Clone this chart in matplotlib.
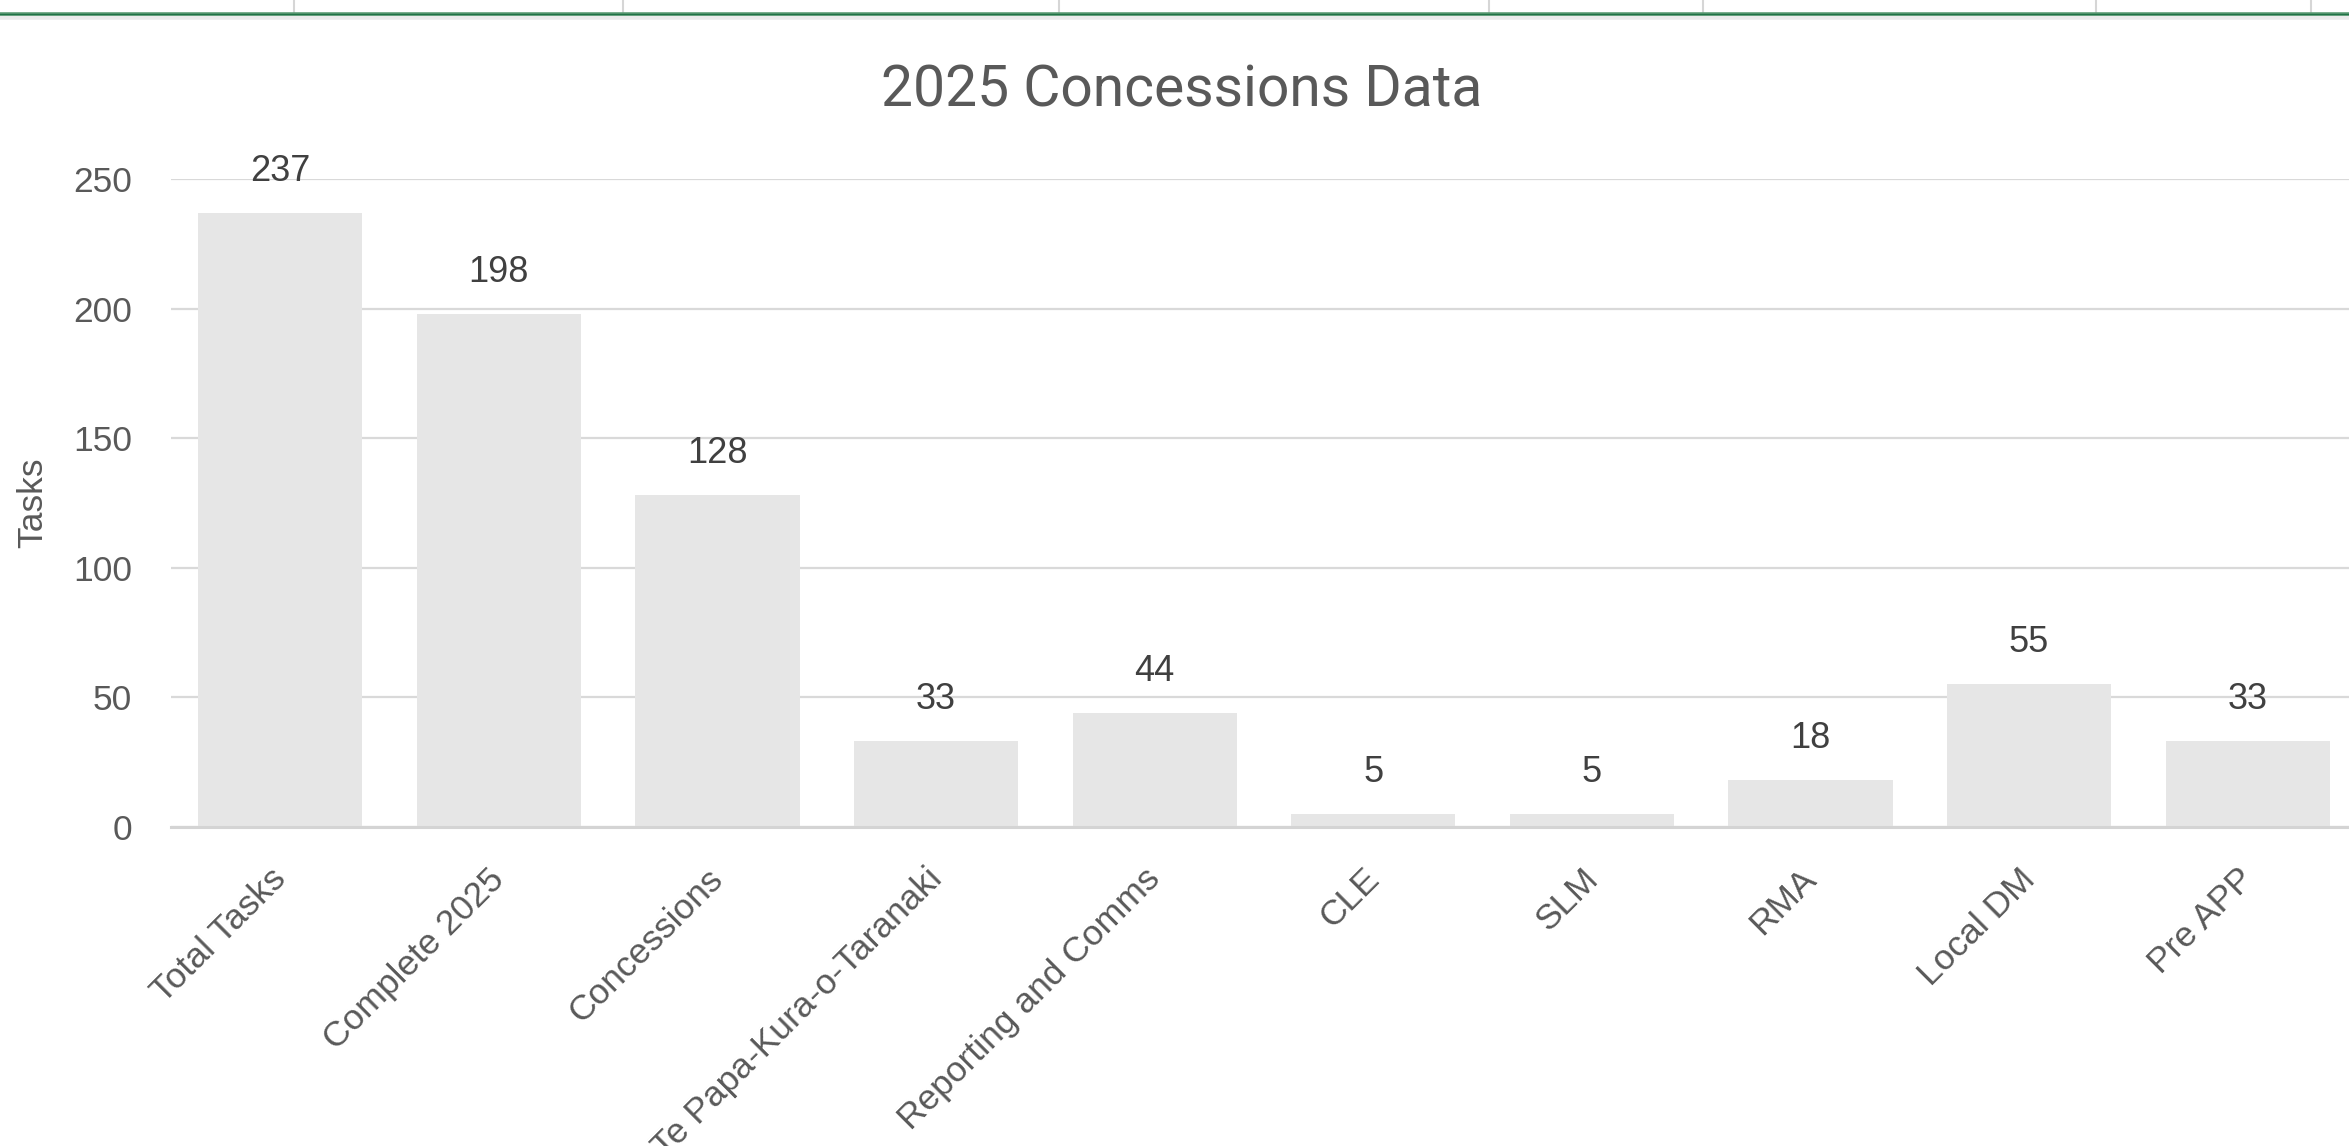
#!/usr/bin/env python3
"""
2025 Concessions Data - 柱状图复刻脚本

直接运行：python3 plot.py
输出：out.png (2349x1146)
"""

# ============================================================================
# 数据区域
# ============================================================================

CATEGORIES = [
    "Total Tasks",
    "Complete 2025",
    "Concessions",
    "Te Papa-Kura-o-Taranaki",
    "Reporting and Comms",
    "CLE",
    "SLM",
    "RMA",
    "Local DM",
    "Pre APP",
]
TASK_COUNTS = [237, 198, 128, 33, 44, 5, 5, 18, 55, 33]

Y_TICKS = [0, 50, 100, 150, 200, 250]

TITLE = "2025 Concessions Data"
Y_LABEL = "Tasks"

# ============================================================================
# 样式区域
# ============================================================================

FIG_W, FIG_H = 2349, 1146   # 像素
DPI = 100

BAR_COLOR = "#E6E6E6"
GRID_COLOR = "#D9D9D9"
TEXT_COLOR = "#595959"
LABEL_COLOR = "#404040"

TITLE_FONTSIZE = 41
TICK_FONTSIZE = 25.5
LABEL_FONTSIZE = 26
BAR_WIDTH = 0.752

# 绘图区（像素坐标，左上为原点）
PLOT_LEFT, PLOT_RIGHT = 171, 2357
PLOT_TOP, PLOT_BOTTOM = 179, 827

# 表格顶部的网格线（截图里 Excel 的单元格边框）
SHEET_COL_LINES = [294, 623, 1059, 1489, 1703, 2096, 2311]

# ============================================================================

import matplotlib
matplotlib.use("Agg")
import matplotlib.pyplot as plt
import matplotlib.transforms as mtransforms
from matplotlib.lines import Line2D


def px_x(x):
    return x / FIG_W


def px_y(y):
    return 1 - y / FIG_H


def draw_sheet_strip(fig):
    """画顶部的 Excel 表格边框和绿色选中线"""
    for x in SHEET_COL_LINES:
        fig.add_artist(Line2D([px_x(x), px_x(x)], [px_y(0), px_y(12)],
                              color="#D6D6D6", lw=1.5))
    fig.add_artist(Line2D([0, 1], [px_y(17), px_y(17)], color="#EBEBEB", lw=4))
    fig.add_artist(Line2D([0, 1], [px_y(13.5), px_y(13.5)], color="#5E9C76", lw=2.6))
    fig.add_artist(Line2D([0, 1], [px_y(13.5), px_y(13.5)], color="#217346", lw=1.0))


def plot_chart(output_path="out.png"):
    plt.rcParams["font.family"] = ["Liberation Sans", "DejaVu Sans"]

    fig = plt.figure(figsize=(FIG_W / DPI, FIG_H / DPI), dpi=DPI)
    fig.patch.set_facecolor("white")

    ax = fig.add_axes([
        px_x(PLOT_LEFT),
        px_y(PLOT_BOTTOM),
        (PLOT_RIGHT - PLOT_LEFT) / FIG_W,
        (PLOT_BOTTOM - PLOT_TOP) / FIG_H,
    ])

    x = list(range(len(CATEGORIES)))
    bars = ax.bar(x, TASK_COUNTS, width=BAR_WIDTH, color=BAR_COLOR, zorder=2)

    # 数据标签
    for rect, val in zip(bars, TASK_COUNTS):
        ax.annotate(
            f"{val}",
            xy=(rect.get_x() + rect.get_width() / 2, rect.get_height()),
            xytext=(0, 30),
            textcoords="offset points",
            ha="center",
            va="center",
            fontsize=LABEL_FONTSIZE,
            color=LABEL_COLOR,
            zorder=4,
        )

    ax.set_xlim(-0.5, len(CATEGORIES) - 0.5)
    ax.set_ylim(0, 250)
    ax.set_yticks(Y_TICKS)
    ax.set_xticks(x)
    ax.set_xticklabels(CATEGORIES, rotation=45, ha="right", va="top",
                       rotation_mode="anchor")

    ax.tick_params(axis="y", length=0, pad=28, labelsize=TICK_FONTSIZE,
                   labelcolor=TEXT_COLOR)
    ax.tick_params(axis="x", length=0, pad=25.5, labelsize=TICK_FONTSIZE,
                   labelcolor=TEXT_COLOR)

    # x 轴标签稍微左移，让末端对齐柱子中心
    offset = mtransforms.ScaledTranslation(-11 / DPI, 0, fig.dpi_scale_trans)
    for lbl in ax.get_xticklabels():
        lbl.set_transform(lbl.get_transform() + offset)

    ax.grid(True, axis="y", color=GRID_COLOR, lw=1.6, zorder=0)
    ax.set_axisbelow(True)
    for side in ("top", "right", "left"):
        ax.spines[side].set_visible(False)
    ax.spines["bottom"].set_color("#D4D4D4")
    ax.spines["bottom"].set_linewidth(2.2)
    ax.spines["bottom"].set_zorder(3)

    ax.set_ylabel(Y_LABEL, fontsize=TICK_FONTSIZE, color=TEXT_COLOR)
    ax.yaxis.label.set_va("center")
    ax.yaxis.set_label_coords((33 - PLOT_LEFT) / (PLOT_RIGHT - PLOT_LEFT), 0.5)

    fig.text(px_x(1182), px_y(91), TITLE, ha="center", va="center",
             fontsize=TITLE_FONTSIZE, color=TEXT_COLOR, family=["Roboto", "DejaVu Sans"])

    draw_sheet_strip(fig)

    fig.savefig(output_path, dpi=DPI)
    plt.close(fig)


def main():
    plot_chart("out.png")


if __name__ == "__main__":
    main()
